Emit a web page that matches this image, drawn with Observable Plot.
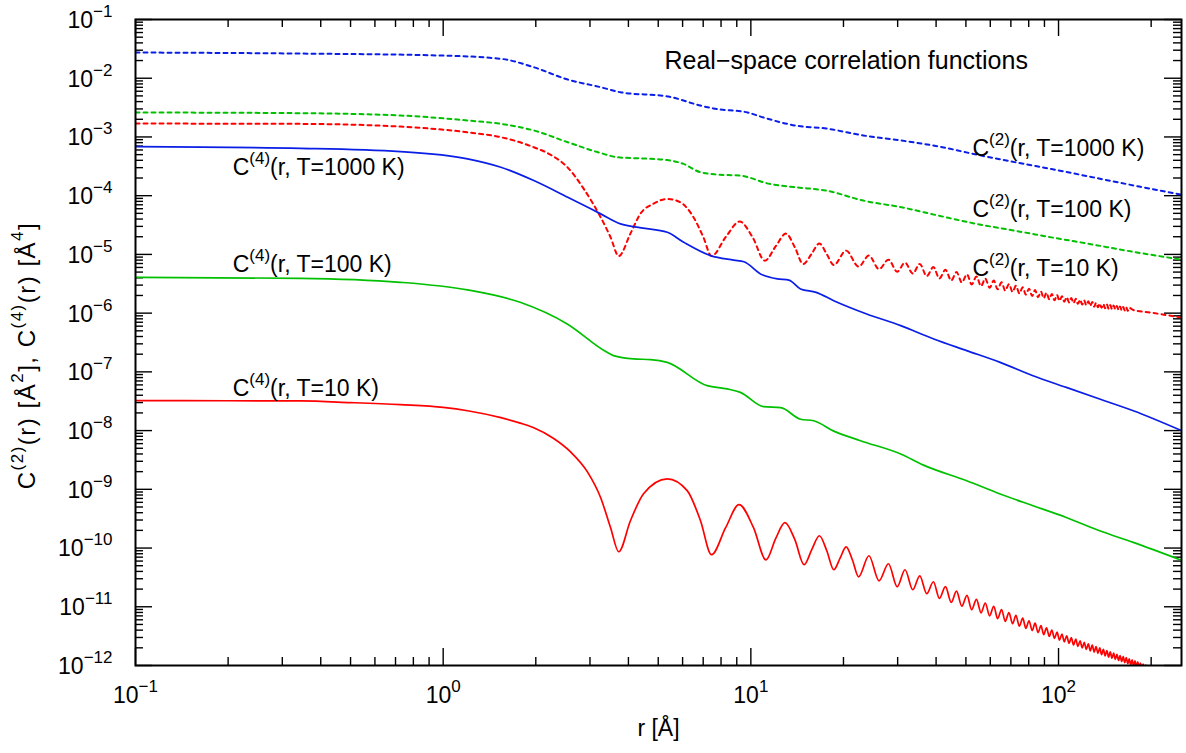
<!DOCTYPE html>
<html><head><meta charset="utf-8">
<script src="https://cdn.jsdelivr.net/npm/d3@7"></script>
<script src="https://cdn.jsdelivr.net/npm/@observablehq/plot@0.6"></script>
<style>body{margin:0;background:#fff}</style>
</head><body><div id="chart"></div>
<script>
// ---- data: [r (Å), value] ----
const C2_1000K = [[0.1,2.74e-2],[0.344,2.63e-2],[0.97,2.44e-2],[1.54,2.14e-2],[1.97,1.54e-2],[2.54,9.5e-3],[3.25,7.03e-3],[3.77,5.77e-3],[5.4,4.87e-3],[6.85,3.43e-3],[7.56,3.05e-3],[9.75,2.61e-3],[11.0,2.14e-3],[14.0,1.56e-3],[17.6,1.39e-3],[23.2,1.06e-3],[30.9,8.69e-4],[40.7,6.9e-4],[54.1,5.01e-4],[71.9,3.73e-4],[94.9,2.84e-4],[166,1.58e-4],[251,1.04e-4]];
const C2_100K = [[0.1,2.61e-3],[0.344,2.54e-3],[0.726,2.32e-3],[1.2,1.91e-3],[1.54,1.67e-3],[1.97,1.29e-3],[2.54,8.13e-4],[3.25,5.32e-4],[3.69,4.51e-4],[4.72,4.24e-4],[5.35,4.04e-4],[6.04,3.48e-4],[6.85,2.51e-4],[7.79,2.29e-4],[9.2,2.2e-4],[11.5,1.59e-4],[14.0,1.39e-4],[17.6,1.22e-4],[23.2,8.25e-5],[30.9,6.34e-5],[40.7,4.58e-5],[54.1,3.31e-5],[71.9,2.54e-5],[94.9,1.95e-5],[125.8,1.51e-5],[166,1.16e-5],[251,8.15e-6]];
const C2_10K = [[0.1,1.69e-3],[0.344,1.67e-3],[0.726,1.5e-3],[1.2,1.2e-3],[1.54,9.9e-4],[1.97,6.68e-4],[2.23,5.01e-4],[2.54,3.01e-4],[2.86,1.32e-4],[3.25,4.29e-5],[3.5,1.96e-5],[3.72,9.35e-6],[4.06,2.26e-5],[4.38,4.96e-5],[4.83,7.33e-5],[5.35,8.81e-5],[5.9,7.72e-5],[6.51,4.29e-5],[7.01,1.96e-5],[7.45,9.35e-6],[8.3,2.0e-5],[9.2,3.62e-5],[10.15,1.92e-5],[11.1,7.83e-6],[12.05,1.38e-5],[13.0,2.26e-5],[13.9,1.32e-5],[14.8,6.84e-6],[15.75,1.02e-5],[16.7,1.53e-5],[17.65,1.01e-5],[18.6,6.58e-6],[20.4,1.16e-5],[22.4,6.2e-6],[24.2,9.55e-6],[26.1,5.62e-6],[28.0,8.14e-6],[29.9,5.09e-6],[31.7,7.24e-6],[33.6,4.71e-6],[35.4,6.89e-6],[37.3,4.27e-6],[39.2,6.09e-6],[41.0,3.9e-6],[42.9,5.48e-6],[44.8,3.59e-6],[46.6,5.0e-6],[48.5,3.32e-6],[50.4,4.58e-6],[52.2,3.08e-6],[54.1,4.21e-6],[56.0,2.88e-6],[57.8,3.88e-6],[59.7,2.71e-6],[61.6,3.59e-6],[63.4,2.55e-6],[65.3,3.35e-6],[67.1,2.42e-6],[69.0,3.12e-6],[70.9,2.3e-6],[72.7,2.93e-6],[74.6,2.17e-6],[76.5,2.76e-6],[78.3,2.07e-6],[80.2,2.61e-6],[82.1,1.96e-6],[83.9,2.47e-6],[85.8,1.87e-6],[87.7,2.33e-6],[89.5,1.79e-6],[91.4,2.23e-6],[93.3,1.72e-6],[95.1,2.12e-6],[97.0,1.65e-6],[98.9,2.04e-6],[100.7,1.62e-6],[102.6,1.94e-6],[104.4,1.57e-6],[106.3,1.87e-6],[108.2,1.52e-6],[110.0,1.81e-6],[111.9,1.48e-6],[113.8,1.75e-6],[115.6,1.44e-6],[117.5,1.69e-6],[119.4,1.40e-6],[121.2,1.64e-6],[123.1,1.36e-6],[125.0,1.59e-6],[126.8,1.32e-6],[128.7,1.55e-6],[130.6,1.29e-6],[132.4,1.50e-6],[134.3,1.26e-6],[136.2,1.46e-6],[138.0,1.23e-6],[139.9,1.43e-6],[141.7,1.21e-6],[143.6,1.40e-6],[145.5,1.19e-6],[147.3,1.37e-6],[149.2,1.17e-6],[151.1,1.35e-6],[152.9,1.16e-6],[154.8,1.32e-6],[156.7,1.14e-6],[158.5,1.30e-6],[160.4,1.12e-6],[162.3,1.27e-6],[164.1,1.11e-6],[166.0,1.25e-6],[167.9,1.09e-6],[169.7,1.23e-6],[175,1.13e-6],[200,1.02e-6],[251,8.4e-7]];
const C4_1000K = [[0.1,6.86e-4],[0.344,6.41e-4],[0.726,5.64e-4],[1.2,4.24e-4],[1.54,3.05e-4],[1.97,1.81e-4],[2.54,9.4e-5],[3.25,4.9e-5],[3.77,3.31e-5],[4.4,2.83e-5],[5.35,2.38e-5],[6.05,1.61e-5],[7.39,9.55e-6],[8.8,8.0e-6],[9.5,7.5e-6],[10.75,4.66e-6],[12.2,3.83e-6],[13.3,3.65e-6],[14.5,2.58e-6],[16.3,2.26e-6],[18.6,1.63e-6],[23.8,9.68e-7],[30.7,6.12e-7],[39.3,3.63e-7],[50.3,2.3e-7],[64.6,1.45e-7],[82.6,8.6e-8],[106,5.44e-8],[136,3.45e-8],[175,2.18e-8],[251,1.0e-8]];
const C4_100K = [[0.1,4.07e-6],[0.344,3.92e-6],[0.726,3.35e-6],[1.2,2.49e-6],[1.78,1.53e-6],[2.53,6.55e-7],[3.41,2.15e-7],[3.58,1.89e-7],[4.16,1.66e-7],[4.72,1.62e-7],[5.35,1.45e-7],[7.21,5.82e-8],[8.37,5.12e-8],[9.25,4.48e-8],[11.0,2.55e-8],[12.5,2.46e-8],[14.5,1.56e-8],[16.0,1.47e-8],[18.6,9.8e-9],[22.7,6.73e-9],[30.7,3.99e-9],[36.4,2.58e-9],[50.3,1.4e-9],[64.6,8.32e-10],[82.6,5.26e-10],[106,3.32e-10],[136,1.97e-10],[175,1.25e-10],[251,6.2e-11]];
const C4_10K = [[0.1,3.23e-8],[0.2,3.22e-8],[0.344,3.2e-8],[0.5,3.0e-8],[0.726,2.76e-8],[1.0,2.48e-8],[1.2,2.18e-8],[1.54,1.66e-8],[1.78,1.34e-8],[1.97,1.12e-8],[2.28,7.42e-9],[2.59,4.38e-9],[2.94,2.0e-9],[3.25,7.2e-10],[3.5,2.22e-10],[3.72,8.65e-11],[4.06,2.92e-10],[4.48,8.4e-10],[5.35,1.51e-9],[6.21,9.5e-10],[6.86,2.92e-10],[7.45,7.7e-11],[8.28,2.22e-10],[9.15,5.47e-10],[10.2,2.22e-10],[11.2,6.3e-11],[12.05,1.46e-10],[12.9,2.7e-10],[13.9,1.39e-10],[14.9,5.2e-11],[15.8,9.6e-11],[16.7,1.62e-10],[17.65,9.0e-11],[18.6,4.27e-11],[19.5,6.75e-11],[20.4,1.05e-10],[21.4,6.2e-11],[22.4,3.24e-11],[24.2,7.4e-11],[26.1,2.77e-11],[28.0,5.4e-11],[29.9,2.19e-11],[31.7,4.27e-11],[33.6,1.95e-11],[35.4,3.37e-11],[37.3,1.67e-11],[39.2,2.67e-11],[41.0,1.39e-11],[42.9,2.2e-11],[44.8,1.19e-11],[46.6,1.85e-11],[48.5,1.02e-11],[50.4,1.56e-11],[52.2,8.95e-12],[54.1,1.34e-11],[56.0,7.9e-12],[57.8,1.16e-11],[59.7,7.0e-12],[61.6,1.02e-11],[63.4,6.28e-12],[65.3,8.97e-12],[67.1,5.66e-12],[69.0,7.98e-12],[70.9,5.14e-12],[72.7,7.11e-12],[74.6,4.68e-12],[76.5,6.4e-12],[78.3,4.28e-12],[80.2,5.78e-12],[82.1,3.94e-12],[83.9,5.25e-12],[85.8,3.63e-12],[87.7,4.78e-12],[89.5,3.36e-12],[91.4,4.37e-12],[93.3,3.12e-12],[95.1,4.01e-12],[97.0,2.9e-12],[98.9,3.69e-12],[100.7,2.7e-12],[102.6,3.43e-12],[104.4,2.53e-12],[106.3,3.21e-12],[108.2,2.38e-12],[110.0,3.0e-12],[111.9,2.24e-12],[113.8,2.81e-12],[115.6,2.11e-12],[117.5,2.64e-12],[119.4,1.99e-12],[121.2,2.49e-12],[123.1,1.88e-12],[125.0,2.34e-12],[126.8,1.78e-12],[128.7,2.22e-12],[130.6,1.69e-12],[132.4,2.1e-12],[134.3,1.61e-12],[136.2,1.99e-12],[138.0,1.53e-12],[139.9,1.89e-12],[141.7,1.46e-12],[143.6,1.79e-12],[145.5,1.39e-12],[147.3,1.71e-12],[149.2,1.33e-12],[151.1,1.63e-12],[152.9,1.27e-12],[154.8,1.55e-12],[156.7,1.22e-12],[158.5,1.48e-12],[160.4,1.17e-12],[162.3,1.42e-12],[164.1,1.12e-12],[166.0,1.36e-12],[167.9,1.07e-12],[169.7,1.3e-12],[171.6,1.03e-12],[173.5,1.25e-12],[175.3,9.9e-13],[177.2,1.2e-12],[179.0,9.55e-13],[180.9,1.15e-12],[182.8,9.2e-13],[184.6,1.1e-12],[186.5,8.9e-13],[188.4,1.06e-12],[190.2,8.6e-13],[192.1,1.02e-12],[194.0,8.3e-13],[196.0,9.8e-13],[198.0,8.0e-13]];

const seriesNames  = ["C2_1000K","C2_100K","C2_10K","C4_1000K","C4_100K","C4_10K"];
const seriesData   = [C2_1000K, C2_100K, C2_10K, C4_1000K, C4_100K, C4_10K];
const seriesColors = ["#0a1ee6","#00c000","#ff0000","#0a1ee6","#00c000","#ff0000"];
const seriesDashed = [true, true, true, false, false, false];

// ---- axes ----
const xMajor = [0.1, 1, 10, 100];
const xMajorLabels = ["10^{−1}","10^{0}","10^{1}","10^{2}"];
const xMinor = [0.2,0.3,0.4,0.5,0.6,0.7,0.8,0.9,2,3,4,5,6,7,8,9,20,30,40,50,60,70,80,90,200];
const yMajor = [1e-1,1e-2,1e-3,1e-4,1e-5,1e-6,1e-7,1e-8,1e-9,1e-10,1e-11,1e-12];
const yMajorLabels = ["10^{−1}","10^{−2}","10^{−3}","10^{−4}","10^{−5}","10^{−6}","10^{−7}","10^{−8}","10^{−9}","10^{−10}","10^{−11}","10^{−12}"];
const yMinor = [];
for (let e = -12; e <= -2; e++) for (let k = 2; k <= 9; k++) yMinor.push(+(k + "e" + e));

// ---- annotations ----
const labelText = ["C^{(4)}(r, T=1000 K)","C^{(4)}(r, T=100 K)","C^{(4)}(r, T=10 K)","C^{(2)}(r, T=1000 K)","C^{(2)}(r, T=100 K)","C^{(2)}(r, T=10 K)"];
const labelR = [0.207, 0.207, 0.207, 52.5, 52.5, 52.5];
const labelV = [3.06e-4, 6.62e-6, 5.26e-8, 6.44e-4, 5.73e-5, 5.82e-6];
const titleText = "Real−space correlation functions";
const titleR = 5.24, titleV = 1.98e-2;
const xTitle = "r [Å]";
const yTitle = "C^{(2)}(r) [Å^{2}], C^{(4)}(r) [Å^{4}]";

const W = 1186, H = 753, ML = 135, MR = 5, MT = 19, MB = 88;
const FW = W - ML - MR, FH = H - MT - MB;

const lineMarks = seriesData.map((d, i) => Plot.line(d, {
  x: p => p[0], y: p => p[1], stroke: seriesColors[i], strokeWidth: seriesDashed[i] ? 2 : 1.7,
  strokeDasharray: seriesDashed[i] ? "4,4" : null, curve: "monotone-x", clip: true
}));

const tickStyle = {stroke: "#000", strokeWidth: 1.4};
const chart = Plot.plot({
  width: W, height: H, marginLeft: ML, marginRight: MR, marginTop: MT, marginBottom: MB,
  x: {type: "log", domain: [0.1, 251], axis: null},
  y: {type: "log", domain: [1e-12, 1e-1], axis: null},
  style: {fontFamily: "'Liberation Sans', Arial, Helvetica, sans-serif", background: "#fff", color: "#000"},
  marks: [
    Plot.tickY(yMinor, {y: d => d, insetRight: FW - 8, ...tickStyle}),
    Plot.tickY(yMinor, {y: d => d, insetLeft: FW - 8, ...tickStyle}),
    Plot.tickY(yMajor, {y: d => d, insetRight: FW - 17, ...tickStyle}),
    Plot.tickY(yMajor, {y: d => d, insetLeft: FW - 17, ...tickStyle}),
    Plot.tickX(xMinor, {x: d => d, insetTop: FH - 8, ...tickStyle}),
    Plot.tickX(xMinor, {x: d => d, insetBottom: FH - 8, ...tickStyle}),
    Plot.tickX(xMajor, {x: d => d, insetTop: FH - 17, ...tickStyle}),
    Plot.tickX(xMajor, {x: d => d, insetBottom: FH - 17, ...tickStyle}),
    ...lineMarks,
    Plot.frame({stroke: "#000", strokeWidth: 2}),
    Plot.text(yMajor, {y: d => d, text: (d, i) => yMajorLabels[i], frameAnchor: "left", dx: -23, dy: 1, textAnchor: "end", fontSize: 23, fill: "#000"}),
    Plot.text(xMajor, {x: d => d, text: (d, i) => xMajorLabels[i], frameAnchor: "bottom", dy: 37, textAnchor: "middle", fontSize: 23, fill: "#000"}),
    Plot.text(labelText, {x: (d, i) => labelR[i], y: (d, i) => labelV[i], text: d => d, textAnchor: "start", fontSize: 23, fill: "#000"}),
    Plot.text([titleText], {x: () => titleR, y: () => titleV, text: d => d, textAnchor: "start", fontSize: 25, fill: "#000"}),
    Plot.text([xTitle], {text: d => d, frameAnchor: "bottom", dy: 70, textAnchor: "middle", fontSize: 23, fill: "#000"}),
    Plot.text([yTitle], {text: d => d, frameAnchor: "left", rotate: -90, dx: -108, dy: 13, textAnchor: "middle", fontSize: 24, fill: "#000", className: "ytitle"})
  ]
});

// turn "^{...}" markup into superscript tspans
function richText(svg) {
  const NS = "http://www.w3.org/2000/svg";
  svg.querySelectorAll("text").forEach(t => {
    const s = t.textContent;
    if (!s.includes("^{")) return;
    const holder = t.closest("[font-size]");
    const fs = holder ? parseFloat(holder.getAttribute("font-size")) : 22;
    const supSize = Math.round(fs * 0.72), shift = Math.round(fs * 0.48);
    while (t.firstChild) t.removeChild(t.firstChild);
    const parts = s.split(/\^\{([^}]*)\}/);
    let cur = 0;
    parts.forEach((p, i) => {
      if (!p) return;
      const sup = i % 2 === 1;
      const target = sup ? -shift : 0;
      const ts = document.createElementNS(NS, "tspan");
      if (target !== cur) ts.setAttribute("dy", target - cur);
      if (sup) ts.setAttribute("font-size", supSize);
      ts.textContent = p;
      t.appendChild(ts);
      cur = target;
    });
  });
  svg.querySelectorAll(".ytitle text, g.ytitle text").forEach(t => t.setAttribute("letter-spacing", "1.5"));
}
richText(chart);
document.getElementById("chart").appendChild(chart);
</script>
</body></html>
